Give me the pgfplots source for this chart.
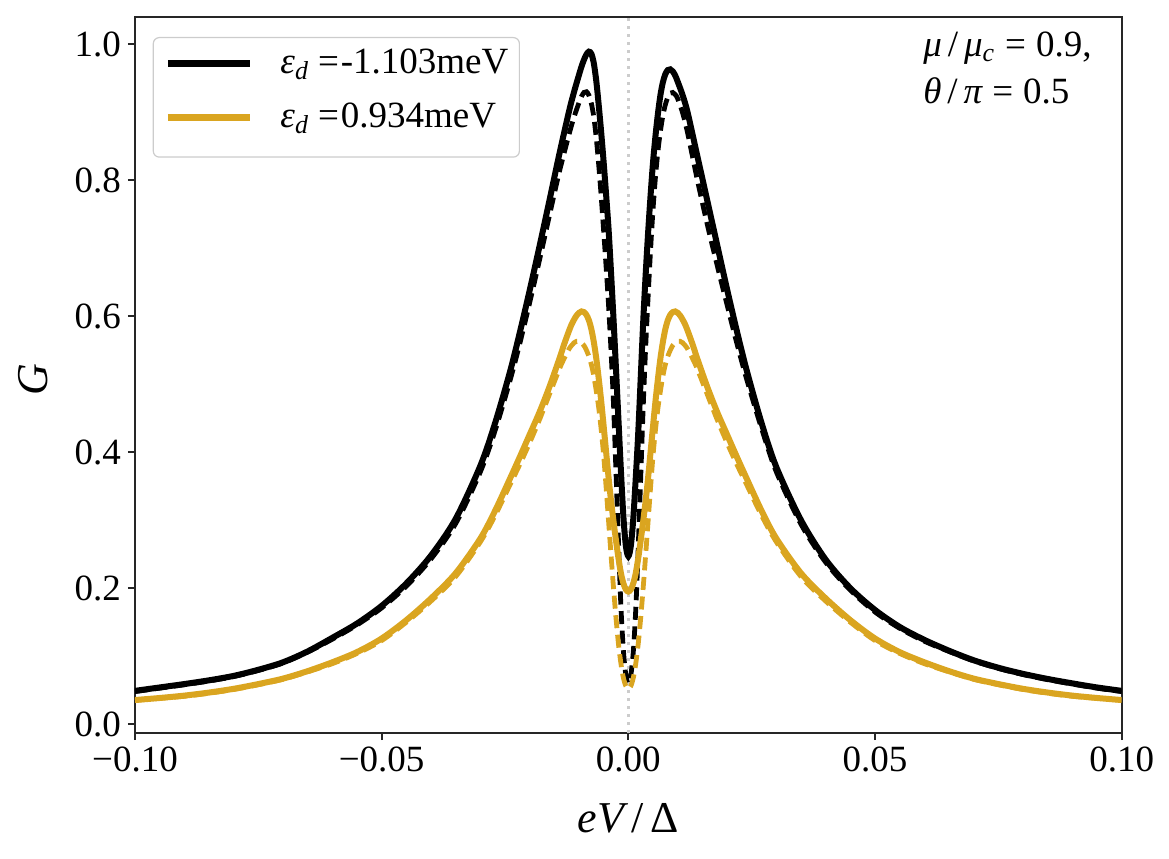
\documentclass[border=0pt]{standalone}
\usepackage{fontspec}
\setmainfont{Liberation Serif}
\usepackage{pgfplots}
\usepackage{pgfplotstable}
\pgfplotsset{compat=1.18}
\definecolor{gold}{RGB}{218,165,32}
\definecolor{spine}{RGB}{38,38,38}
\newcommand{\iv}[1]{{\itshape #1}}

\pgfplotstableread{
x y
-0.100 0.049
-0.095 0.054
-0.090 0.059
-0.085 0.0645
-0.080 0.071
-0.075 0.080
-0.070 0.091
-0.065 0.107
-0.060 0.127
-0.055 0.148
-0.050 0.174
-0.045 0.207
-0.040 0.248
-0.035 0.302
-0.030 0.380
-0.027 0.443
-0.024 0.518
-0.022 0.576
-0.020 0.638
-0.018 0.703
-0.016 0.770
-0.014 0.838
-0.012 0.902
-0.011 0.930
-0.010 0.955
-0.0095 0.967
-0.009 0.977
-0.0085 0.985
-0.008 0.989
-0.0075 0.986
-0.007 0.972
-0.0065 0.946
-0.006 0.910
-0.0055 0.870
-0.005 0.826
-0.0045 0.778
-0.004 0.727
-0.0035 0.663
-0.003 0.595
-0.0025 0.522
-0.002 0.447
-0.0015 0.372
-0.001 0.305
-0.0005 0.262
0.000 0.247
0.0005 0.262
0.001 0.302
0.0015 0.362
0.002 0.428
0.0025 0.508
0.003 0.590
0.0035 0.660
0.004 0.722
0.0045 0.777
0.005 0.826
0.0055 0.865
0.006 0.898
0.0065 0.925
0.007 0.944
0.0075 0.956
0.008 0.962
0.0085 0.963
0.009 0.960
0.0095 0.954
0.010 0.945
0.011 0.925
0.012 0.900
0.014 0.835
0.016 0.770
0.018 0.705
0.020 0.640
0.022 0.578
0.024 0.520
0.027 0.443
0.030 0.378
0.035 0.300
0.040 0.242
0.045 0.200
0.050 0.168
0.055 0.143
0.060 0.124
0.065 0.108
0.070 0.094
0.075 0.083
0.080 0.074
0.085 0.0665
0.090 0.060
0.095 0.054
0.100 0.049
}\blacksolid

\pgfplotstableread{
x y
-0.100 0.048
-0.095 0.053
-0.090 0.058
-0.085 0.0635
-0.080 0.070
-0.075 0.079
-0.070 0.090
-0.065 0.106
-0.060 0.125
-0.055 0.146
-0.050 0.171
-0.045 0.203
-0.040 0.243
-0.035 0.295
-0.030 0.371
-0.027 0.432
-0.024 0.505
-0.022 0.560
-0.020 0.620
-0.018 0.683
-0.016 0.748
-0.014 0.812
-0.012 0.868
-0.011 0.893
-0.010 0.914
-0.0095 0.923
-0.009 0.929
-0.0085 0.930
-0.008 0.925
-0.0075 0.913
-0.007 0.893
-0.0065 0.862
-0.006 0.822
-0.0055 0.776
-0.005 0.725
-0.0045 0.672
-0.004 0.615
-0.0035 0.548
-0.003 0.470
-0.0025 0.370
-0.002 0.268
-0.0015 0.172
-0.001 0.108
-0.0005 0.072
0.000 0.060
0.0005 0.072
0.001 0.106
0.0015 0.168
0.002 0.258
0.0025 0.362
0.003 0.465
0.0035 0.553
0.004 0.628
0.0045 0.697
0.005 0.757
0.0055 0.805
0.006 0.843
0.0065 0.872
0.007 0.895
0.0075 0.911
0.008 0.922
0.0085 0.928
0.009 0.929
0.0095 0.926
0.010 0.920
0.011 0.899
0.012 0.870
0.014 0.800
0.016 0.735
0.018 0.675
0.020 0.617
0.022 0.560
0.024 0.507
0.027 0.435
0.030 0.371
0.035 0.294
0.040 0.238
0.045 0.197
0.050 0.165
0.055 0.141
0.060 0.122
0.065 0.107
0.070 0.093
0.075 0.082
0.080 0.073
0.085 0.0655
0.090 0.059
0.095 0.053
0.100 0.048
}\blackdashed

\pgfplotstableread{
x y
-0.100 0.0355
-0.095 0.0385
-0.090 0.042
-0.085 0.0465
-0.080 0.052
-0.075 0.059
-0.070 0.067
-0.065 0.078
-0.060 0.091
-0.055 0.106
-0.050 0.126
-0.045 0.153
-0.040 0.185
-0.035 0.222
-0.030 0.273
-0.027 0.314
-0.024 0.361
-0.022 0.393
-0.020 0.426
-0.018 0.459
-0.016 0.496
-0.014 0.537
-0.013 0.559
-0.012 0.579
-0.0115 0.588
-0.011 0.595
-0.0105 0.601
-0.010 0.605
-0.0095 0.607
-0.009 0.606
-0.0085 0.602
-0.008 0.594
-0.0075 0.581
-0.007 0.562
-0.0065 0.538
-0.006 0.508
-0.0055 0.475
-0.005 0.438
-0.0045 0.400
-0.004 0.362
-0.0035 0.328
-0.003 0.298
-0.0025 0.270
-0.002 0.244
-0.0015 0.222
-0.001 0.207
-0.0005 0.198
0.000 0.195
0.0005 0.198
0.001 0.207
0.0015 0.222
0.002 0.244
0.0025 0.270
0.003 0.298
0.0035 0.328
0.004 0.362
0.0045 0.400
0.005 0.438
0.0055 0.475
0.006 0.508
0.0065 0.538
0.007 0.562
0.0075 0.581
0.008 0.594
0.0085 0.602
0.009 0.606
0.0095 0.607
0.010 0.605
0.0105 0.601
0.011 0.595
0.0115 0.588
0.012 0.579
0.013 0.559
0.014 0.537
0.016 0.496
0.018 0.459
0.020 0.426
0.022 0.393
0.024 0.361
0.027 0.314
0.030 0.273
0.035 0.222
0.040 0.185
0.045 0.153
0.050 0.126
0.055 0.106
0.060 0.091
0.065 0.078
0.070 0.067
0.075 0.059
0.080 0.052
0.085 0.0465
0.090 0.042
0.095 0.0385
0.100 0.0355
}\goldsolid

\pgfplotstableread{
x y
-0.100 0.035
-0.095 0.038
-0.090 0.041
-0.085 0.0455
-0.080 0.051
-0.075 0.058
-0.070 0.066
-0.065 0.077
-0.060 0.089
-0.055 0.104
-0.050 0.123
-0.045 0.150
-0.040 0.181
-0.035 0.217
-0.030 0.268
-0.027 0.307
-0.024 0.352
-0.022 0.382
-0.020 0.414
-0.018 0.448
-0.016 0.485
-0.014 0.522
-0.013 0.538
-0.012 0.552
-0.0115 0.557
-0.011 0.561
-0.0105 0.563
-0.010 0.563
-0.0095 0.561
-0.009 0.557
-0.0085 0.550
-0.008 0.541
-0.0075 0.529
-0.007 0.512
-0.0065 0.490
-0.006 0.465
-0.0055 0.433
-0.005 0.395
-0.0045 0.348
-0.004 0.298
-0.0035 0.248
-0.003 0.200
-0.0025 0.156
-0.002 0.118
-0.0015 0.089
-0.001 0.068
-0.0005 0.056
0.000 0.052
0.0005 0.056
0.001 0.068
0.0015 0.089
0.002 0.118
0.0025 0.156
0.003 0.200
0.0035 0.248
0.004 0.298
0.0045 0.348
0.005 0.395
0.0055 0.433
0.006 0.465
0.0065 0.490
0.007 0.512
0.0075 0.529
0.008 0.541
0.0085 0.550
0.009 0.557
0.0095 0.561
0.010 0.563
0.0105 0.563
0.011 0.561
0.0115 0.557
0.012 0.552
0.013 0.538
0.014 0.522
0.016 0.485
0.018 0.448
0.020 0.414
0.022 0.382
0.024 0.352
0.027 0.307
0.030 0.268
0.035 0.217
0.040 0.181
0.045 0.150
0.050 0.123
0.055 0.104
0.060 0.089
0.065 0.077
0.070 0.066
0.075 0.058
0.080 0.051
0.085 0.0455
0.090 0.041
0.095 0.038
0.100 0.035
}\golddashed

\begin{document}
\begin{tikzpicture}
\useasboundingbox (-67.5pt,-62.5pt) rectangle (517pt,366.5pt);
\begin{axis}[
  at={(0pt,0pt)}, anchor=south west,
  scale only axis,
  width=493.35pt, height=358pt,
  xmin=-0.1, xmax=0.1,
  ymin=-0.013, ymax=1.04,
  axis line style={spine, line width=0.9pt},
  xtick={-0.1,-0.05,0,0.05,0.1},
  xticklabels={−0.10,−0.05,0.00,0.05,0.10},
  ytick={0,0.2,0.4,0.6,0.8,1.0},
  yticklabels={0.0,0.2,0.4,0.6,0.8,1.0},
  xtick pos=lower, ytick pos=left,
  tick align=outside,
  major tick length=3.5pt,
  tick style={spine, line width=0.9pt},
  xticklabel style={font=\fontsize{18.5}{21}\selectfont},
  yticklabel style={font=\fontsize{18.5}{21}\selectfont},
  xlabel={\iv{eV}\hspace{3.5pt}/\hspace{3.5pt}Δ},
  ylabel={\iv{G}},
  xlabel style={font=\fontsize{22}{26}\selectfont, at={(axis description cs:0.5,-0.119)}, anchor=center},
  ylabel style={font=\fontsize{22}{26}\selectfont, at={(axis description cs:-0.1034,0.494)}, anchor=center},
  legend cell align=left,
  legend style={at={(0,1)}, anchor=north west, xshift=8.85pt, yshift=-10pt,
    draw=black!20, line width=0.6pt, rounded corners=3pt,
    fill=white, fill opacity=0.8, text opacity=1,
    font=\fontsize{18.5}{21}\selectfont,
    inner xsep=5.5pt, inner ysep=8.75pt, row sep=11.75pt,
    nodes={inner sep=0pt, text height=9.25pt, text depth=6pt},
    /tikz/every odd column/.append style={column sep=13.5pt}},
  legend image code/.code={\draw[#1, line width=3.6pt] (0pt,3.5pt) -- (41pt,3.5pt);},
]
\addplot[forget plot, color=black!20, line width=1.5pt, dash pattern=on 1.5pt off 2.5pt] coordinates {(0,-0.013) (0,1.04)};
\addplot[black, line width=3pt, smooth, tension=0.5] table {\blacksolid};
\addlegendentry{\iv{ε}\textsubscript{\iv{d}}\hspace{4.5pt}=\hspace{1pt}-1.103meV\hspace{6pt}}
\addplot[forget plot, black, line width=2.4pt, smooth, tension=0.5, dash pattern=on 6.5pt off 3.3pt] table {\blackdashed};
\addplot[gold, line width=3pt, smooth, tension=0.5] table {\goldsolid};
\addlegendentry{\iv{ε}\textsubscript{\iv{d}}\hspace{4.5pt}=\hspace{1pt}0.934meV}
\addplot[forget plot, gold, line width=2.4pt, smooth, tension=0.5, dash pattern=on 6.5pt off 3.3pt] table {\golddashed};
\node[anchor=base west, inner sep=0pt, font=\fontsize{18.5}{21}\selectfont] at (axis description cs:0.7985,1) [yshift=-19.85pt] {\iv{μ}\hspace{3pt}/\hspace{3pt}\iv{μ}\textsubscript{\iv{c}}\hspace{5pt}=\hspace{5pt}0.9,};
\node[anchor=base west, inner sep=0pt, font=\fontsize{18.5}{21}\selectfont] at (axis description cs:0.7985,1) [yshift=-43pt] {\iv{θ}\hspace{3pt}/\hspace{3pt}\iv{π}\hspace{5pt}=\hspace{5pt}0.5};
\end{axis}
\end{tikzpicture}
\end{document}
